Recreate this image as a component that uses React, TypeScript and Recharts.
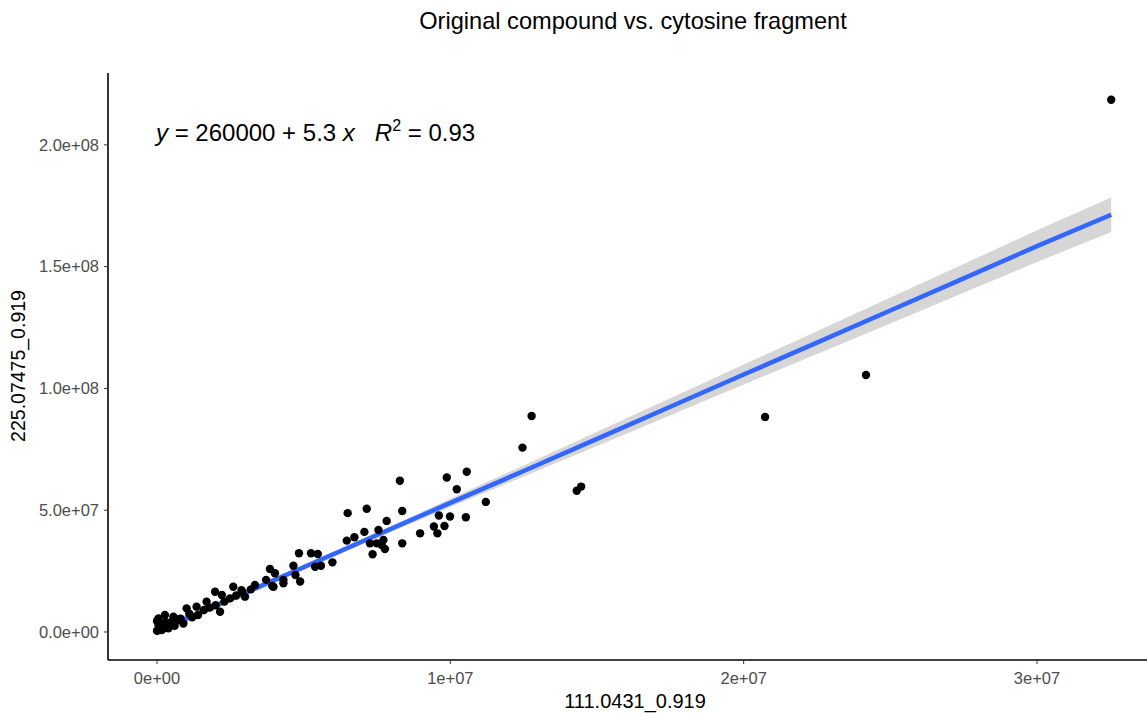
import React from 'react';
import { ComposedChart, Scatter, Line, Area, XAxis, YAxis } from 'recharts';

const xVals = [
  0.0, 0.05, 0.05, 0.16, 0.39, 0.1, 0.2, 0.27, 0.3, 0.45, 0.56, 0.6, 0.9, 0.7, 0.1, 0.0, 0.25, 0.5, 0.8,
  1.01, 1.1, 1.2, 1.35, 1.4, 1.6, 1.69, 1.8, 1.98, 2.0, 2.15, 2.21, 2.3, 2.49, 2.6, 2.7, 2.88, 2.9, 3.0, 3.2,
  3.34, 3.72, 3.85, 3.93, 3.97, 4.02, 4.31, 4.31, 4.65, 4.72, 4.84, 4.88, 5.25, 5.39, 5.48, 5.59, 5.98,
  6.47, 6.5, 6.73, 7.07, 7.15, 7.26, 7.35, 7.49, 7.55, 7.66, 7.72, 7.77, 7.83, 8.28, 8.36, 8.36, 8.97,
  9.44, 9.56, 9.61, 9.8, 9.88, 9.99, 10.22, 10.53, 10.56, 11.21, 12.46, 12.77, 14.31, 14.46, 20.73, 24.17, 32.53,
];
const yVals = [
  0.5, 2.9, 5.6, 0.8, 1.5, 3.5, 1.2, 7.0, 4.0, 3.2, 6.3, 2.5, 3.5, 5.0, 1.8, 4.5, 2.0, 4.2, 5.5,
  9.7, 7.5, 6.0, 10.4, 7.0, 9.0, 12.4, 10.0, 16.5, 11.0, 8.3, 15.2, 12.5, 13.8, 18.6, 15.0, 17.2, 16.5, 14.5, 17.5,
  19.3, 21.4, 25.9, 18.9, 18.6, 24.1, 21.4, 20.0, 27.2, 23.4, 32.3, 20.7, 32.3, 26.8, 32.0, 27.2, 28.6,
  37.5, 48.8, 38.9, 41.1, 50.6, 36.4, 31.9, 36.4, 41.9, 35.7, 37.8, 34.1, 45.6, 62.1, 49.7, 36.4, 40.5,
  43.3, 40.5, 47.8, 43.5, 63.4, 47.4, 58.6, 47.1, 65.8, 53.4, 75.7, 88.7, 58.0, 59.7, 88.3, 105.5, 218.5,
];

// fitted line and its grey band (millions)
const fitX = [0, 2.5, 5, 7.5, 10, 12.5, 15, 17.5, 20, 22.5, 25, 27.5, 30, 32.53];
const fitY = [0.3, 13.4, 26.6, 39.8, 53.0, 66.1, 79.3, 92.5, 105.7, 118.8, 132.0, 145.2, 158.4, 171.3];
const bandLow = [-1.5, 12.1, 25.5, 38.6, 51.3, 63.8, 76.4, 89.0, 101.6, 114.1, 126.7, 139.3, 151.9, 164.2];
const bandHigh = [2.1, 14.7, 27.7, 41.0, 54.7, 68.4, 82.2, 96.0, 109.8, 123.5, 137.3, 151.1, 164.9, 178.4];

const xTicks = [0, 10e6, 20e6, 30e6];
const xTickLabels = ['0e+00', '1e+07', '2e+07', '3e+07'];
const yTicks = [0, 50e6, 100e6, 150e6, 200e6];
const yTickLabels = ['0.0e+00', '5.0e+07', '1.0e+08', '1.5e+08', '2.0e+08'];

const points = xVals.map((x, i) => ({ x: x * 1e6, y: yVals[i] * 1e6 }));
const fitData = fitX.map((x, i) => ({
  x: x * 1e6,
  fit: fitY[i] * 1e6,
  band: [bandLow[i] * 1e6, bandHigh[i] * 1e6],
}));

const font = '"Liberation Sans", Arial, sans-serif';
const tickStyle = { fill: '#4d4d4d', fontSize: 16.5, fontFamily: font };

const Dot = (props: any) => <circle cx={props.cx} cy={props.cy} r={4.2} fill="#000" />;

export default function App() {
  return (
    <div style={{ position: 'absolute', left: 0, top: 0, width: 1147, height: 714, background: '#fff', fontFamily: font }}>
      <ComposedChart width={1147} height={714} data={fitData} margin={{ top: 73, right: 0, bottom: 0, left: 0 }}>
        <XAxis
          dataKey="x"
          type="number"
          domain={[-1.67e6, 33.75e6]}
          allowDataOverflow
          ticks={xTicks}
          tickFormatter={(v) => xTickLabels[xTicks.indexOf(v)]}
          height={54}
          tick={tickStyle}
          tickSize={4}
          tickMargin={8}
          axisLine={{ stroke: '#000', strokeWidth: 1.6 }}
          tickLine={{ stroke: '#333' }}
        />
        <YAxis
          type="number"
          domain={[-11.5e6, 229.5e6]}
          allowDataOverflow
          ticks={yTicks}
          tickFormatter={(v) => yTickLabels[yTicks.indexOf(v)]}
          width={108}
          tick={tickStyle}
          tickSize={4}
          tickMargin={5}
          axisLine={{ stroke: '#000', strokeWidth: 1.6 }}
          tickLine={{ stroke: '#333' }}
        />
        <Area dataKey="band" type="linear" stroke="none" fill="#999999" fillOpacity={0.4} isAnimationActive={false} />
        <Scatter data={points} dataKey="y" shape={Dot} isAnimationActive={false} />
        <Line dataKey="fit" type="linear" stroke="#3366FF" strokeWidth={4.5} dot={false} activeDot={false} isAnimationActive={false} />
      </ComposedChart>
      <svg width={1147} height={714} style={{ position: 'absolute', left: 0, top: 0, pointerEvents: 'none' }} fontFamily={font}>
        <text x={633} y={29} textAnchor="middle" fontSize={23.6} fill="#000">
          Original compound vs. cytosine fragment
        </text>
        <text x={156} y={141} fontSize={24} fill="#000" xmlSpace="preserve">
          <tspan fontStyle="italic">y</tspan>
          <tspan> = 260000 + 5.3 </tspan>
          <tspan fontStyle="italic">x</tspan>
          <tspan>{'   '}</tspan>
          <tspan fontStyle="italic">R</tspan>
          <tspan fontSize={16} dy={-10}>2</tspan>
          <tspan dy={10}> = 0.93</tspan>
        </text>
        <text x={635} y={708} textAnchor="middle" fontSize={20} fill="#000">
          111.0431_0.919
        </text>
        <text x={25} y={366} textAnchor="middle" fontSize={19.5} fill="#000" transform="rotate(-90 25 366)">
          225.07475_0.919
        </text>
      </svg>
    </div>
  );
}
